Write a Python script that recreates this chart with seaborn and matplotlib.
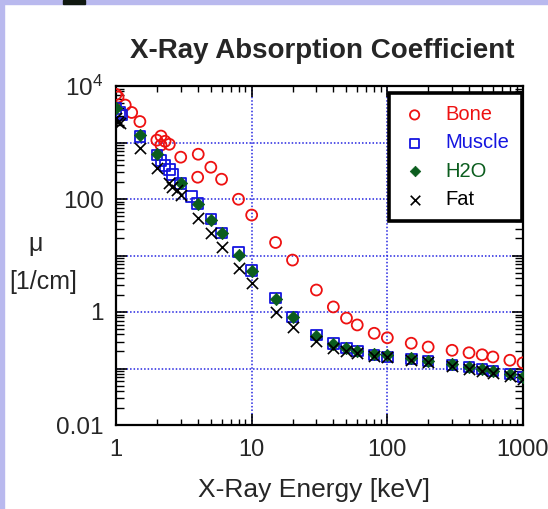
import matplotlib
matplotlib.use("Agg")
import matplotlib.pyplot as plt
from matplotlib.patches import Rectangle
from matplotlib.ticker import LogLocator, NullFormatter
import seaborn as sns

# X-ray energy [keV] and attenuation coefficient mu [1/cm]
bone_E = [1.0, 1.035, 1.17, 1.305, 1.5, 2.0, 2.1455, 2.1455, 2.3, 2.472, 3.0,
          4.0, 4.038, 5.0, 6.0, 8.0, 10, 15, 20, 30, 40, 50, 60, 80, 100,
          150, 200, 300, 400, 500, 600, 800, 1000]
bone_mu = [7100, 6400, 4600, 3400, 2350, 1100, 900, 1300, 1050, 930, 550,
           243, 620, 365, 224, 99, 52, 17, 8.3, 2.45, 1.23, 0.78, 0.59, 0.42, 0.35,
           0.28, 0.24, 0.21, 0.19, 0.175, 0.16, 0.14, 0.126]

muscle_E = [1.0, 1.072, 1.1, 1.5, 2.0, 2.1455, 2.3, 2.472, 2.6, 3.0, 3.6, 4.0,
            5.0, 6.0, 8.0, 10, 15, 20, 30, 40, 50, 60, 80, 100, 150, 200,
            300, 400, 500, 600, 800, 1000]
muscle_mu = [4000, 3400, 3050, 1290, 600, 485, 395, 336, 274, 190, 112, 84,
             44, 25, 11.5, 5.4, 1.77, 0.82, 0.39, 0.28, 0.23, 0.205, 0.174, 0.16,
             0.148, 0.136, 0.116, 0.107, 0.098, 0.091, 0.080, 0.071]

water_E = [1, 1.5, 2, 3, 4, 5, 6, 8, 10, 15, 20, 30, 40, 50, 60, 80, 100, 150,
           200, 300, 400, 500, 600, 800, 1000]
water_mu = [4078, 1376, 617, 193, 82.8, 42.6, 24.6, 10.4, 5.33, 1.67, 0.81,
            0.376, 0.268, 0.227, 0.206, 0.184, 0.171, 0.151, 0.137, 0.119,
            0.106, 0.0969, 0.0896, 0.0787, 0.0707]

fat_E = [1.0, 1.035, 1.072, 1.5, 2.0, 2.472, 2.6, 2.8224, 3.0, 4.0, 5.0, 6.0,
         8.0, 10, 15, 20, 30, 40, 50, 60, 80, 100, 150, 200, 300, 400, 500,
         600, 800, 1000]
fat_mu = [2700, 2300, 2200, 790, 350, 190, 162, 144, 117, 46, 25, 14,
          6.0, 3.2, 1.0, 0.54, 0.31, 0.23, 0.205, 0.19, 0.167, 0.157, 0.14,
          0.128, 0.11, 0.099, 0.091, 0.084, 0.074, 0.066]

x_ticks = [1, 10, 100, 1000]
x_ticklabels = ["1", "10", "100", "1000"]
y_ticks = [0.01, 0.1, 1, 10, 100, 1000, 10000]
y_ticklabels = ["0.01", "", "1", "", "100", "", r"$\mathregular{10^4}$"]

sns.set_style("ticks")
plt.rcParams["font.family"] = ["Liberation Sans", "DejaVu Sans"]
plt.rcParams["mathtext.fontset"] = "custom"
plt.rcParams["mathtext.rm"] = "Liberation Sans"

fig = plt.figure(figsize=(5.48, 5.09), dpi=100)
ax = fig.add_axes([116 / 548, 1 - 425 / 509, 407 / 548, 339 / 509])
ax.set_xscale("log")
ax.set_yscale("log")

red, blue, green = "#ee1111", "#1515e0", "#0b5d1e"

# series, drawn in the same order as the legend
sns.scatterplot(x=bone_E, y=bone_mu, ax=ax, label="Bone", marker="o", s=62,
                color=red, facecolor="none", edgecolor=red, linewidth=1.3, zorder=3)
sns.scatterplot(x=muscle_E, y=muscle_mu, ax=ax, label="Muscle", marker="s", s=58,
                color=blue, facecolor="none", edgecolor=blue, linewidth=1.3, zorder=3)
sns.scatterplot(x=water_E, y=water_mu, ax=ax, label="H2O", marker="D", s=40,
                color=green, edgecolor=green, linewidth=0.5, zorder=3)
sns.scatterplot(x=fat_E, y=fat_mu, ax=ax, label="Fat", marker="x", s=65,
                color="black", linewidth=1.2, zorder=3)

ax.set_xlim(1, 1000)
ax.set_ylim(0.01, 1e4)
ax.set_xticks(x_ticks, x_ticklabels)
ax.set_yticks(y_ticks, y_ticklabels)
ax.xaxis.set_minor_locator(LogLocator(base=10, subs=range(2, 10), numticks=100))
ax.yaxis.set_minor_locator(LogLocator(base=10, subs=range(2, 10), numticks=100))
ax.xaxis.set_minor_formatter(NullFormatter())
ax.yaxis.set_minor_formatter(NullFormatter())
ax.tick_params(which="both", direction="in", top=True, right=True, color="black")
ax.tick_params(axis="x", which="major", length=8, width=1.2, labelsize=17, pad=10)
ax.tick_params(axis="x", which="minor", length=4, width=1)
ax.tick_params(axis="y", which="major", length=8, width=1.2, labelsize=17.5, pad=9)
ax.tick_params(axis="y", which="minor", length=6, width=1)
for sp in ax.spines.values():
    sp.set_linewidth(1.6)
    sp.set_color("black")

ax.grid(which="major", color="#2424e0", linestyle=(0, (1, 1.3)), linewidth=1.1)
ax.set_axisbelow(True)

ax.set_xlabel("X-Ray Energy [keV]", fontsize=19)
ax.xaxis.set_label_coords(0.487, (425 - 490) / 339)
ax.xaxis.label.set_verticalalignment("center")
ax.set_ylabel("μ  \n[1/cm]", fontsize=18, rotation=0, linespacing=1.7,
              ha="center", va="center")
ax.yaxis.set_label_coords((43 - 116) / 407, (425 - 263) / 339)

fig.text(322 / 548, 1 - 58 / 509, "X-Ray Absorption Coefficient", fontsize=20,
         fontweight="bold", ha="center", va="baseline")

leg = ax.legend(loc="upper right", bbox_to_anchor=(0.997, 0.979), borderaxespad=0,
                frameon=True, fancybox=False, edgecolor="black", framealpha=1,
                fontsize=14.5, handlelength=1.3, handletextpad=0.9,
                labelspacing=0.46, borderpad=0.6, markerscale=0.85)
leg.get_frame().set_linewidth(2.6)
for txt, col in zip(leg.get_texts(), [red, blue, green, "black"]):
    txt.set_color(col)

# slide border strips
fig.patches.append(Rectangle((0, 0), 4 / 548, 1, transform=fig.transFigure,
                             color="#b9b9ee", zorder=0))
fig.patches.append(Rectangle((0, 1 - 4 / 509), 1, 4 / 509, transform=fig.transFigure,
                             color="#b9b9ee", zorder=0))
fig.patches.append(Rectangle((63 / 548, 1 - 4 / 509), 22 / 548, 4 / 509,
                             transform=fig.transFigure, color="#101810", zorder=1))

fig.savefig("out.png", dpi=100)
